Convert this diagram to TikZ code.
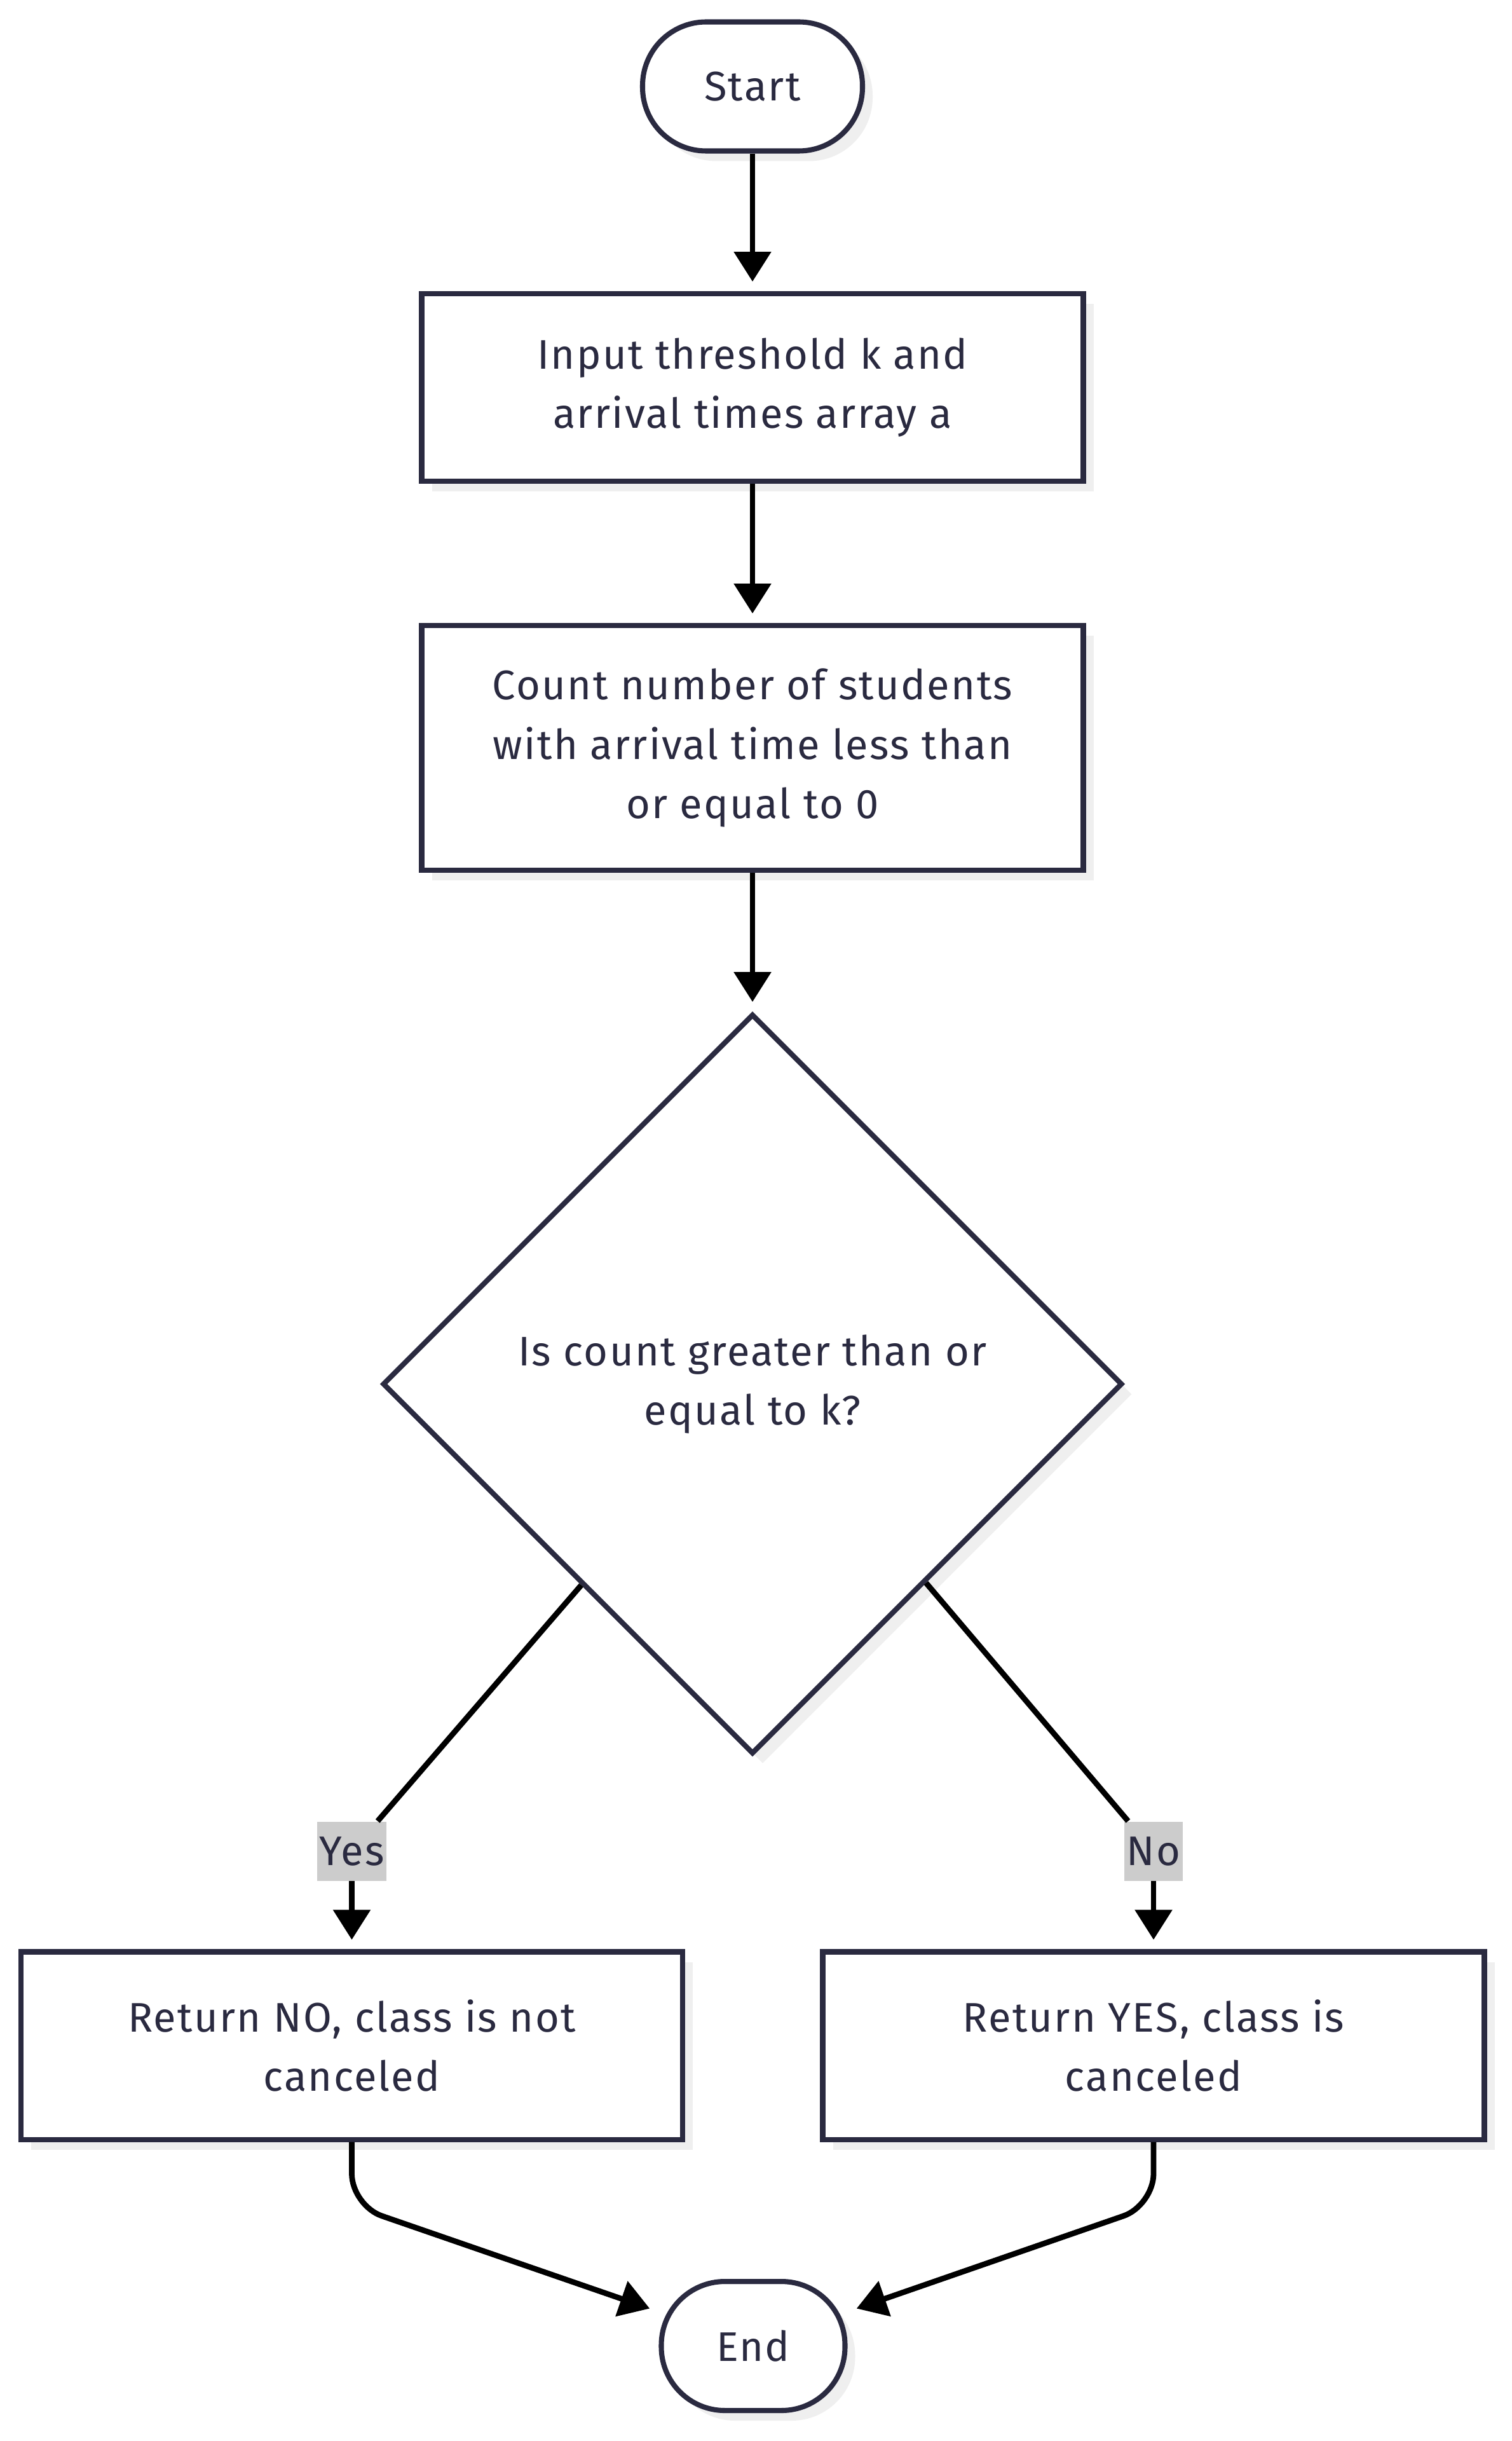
\documentclass[tikz,border=0pt]{standalone}
\usepackage{fontspec}
\setmainfont[LetterSpace=3.5]{Fira Sans}
\usepackage{xcolor}
\usepackage{tikz}
\usetikzlibrary{shapes.geometric, arrows.meta, positioning, calc, shadows}

\definecolor{ink}{HTML}{2A2A40}
\definecolor{shade}{HTML}{EFEFEF}
\definecolor{lblgray}{HTML}{CCCCCC}

\begin{document}
\begin{tikzpicture}[
   font=\fontsize{18.5}{26.5}\selectfont,
   text=ink,
   nodeshadow/.style = {drop shadow={shadow xshift=0.16cm, shadow yshift=-0.16cm, fill=shade, opacity=1}},
   terminal/.style = {draw=ink, fill=white, line width=2.3pt, rounded corners=1cm, minimum height=2.03cm, nodeshadow},
   process/.style = {draw=ink, fill=white, line width=2.3pt, rectangle, minimum width=10.41cm, minimum height=2.95cm, align=center, nodeshadow},
   decision/.style = {draw=ink, fill=white, line width=2.3pt, diamond, aspect=1, minimum width=11.64cm, minimum height=11.64cm, inner sep=0pt, align=center, nodeshadow},
   edgelabel/.style = {fill=lblgray, inner xsep=1pt, inner ysep=0pt, minimum height=0.93cm},
   line/.style = {draw=black, line width=2.5pt, -{Triangle[length=0.47cm, width=0.57cm]}, shorten >=0.15cm},
   plainline/.style = {draw=black, line width=2.5pt}
   ]
  \useasboundingbox (0,0) rectangle (23.78,-38.40);

  % Start node
  \node[terminal, minimum width=3.46cm] (start) at (11.84,-1.36) {Start};

  % Input box
  \node[process, below=2.165cm of start] (input)
   {Input threshold k and\\
   arrival times array a};

  % Counting box
  \node[process, minimum height=3.85cm, below=2.19cm of input] (count)
   {Count number of students\\
   with arrival time less than\\
   or equal to 0};

  % Decision
  \node[decision, below=2.18cm of count] (check)
   {Is count greater than or\\
   equal to k?};

  % Edge labels
  \node[edgelabel] (yeslbl) at (5.535,-29.12) {Yes};
  \node[edgelabel] (nolbl) at (18.15,-29.12) {No};

  % Result boxes
  \node[process] (retno) at (5.535,-32.18)
   {Return NO, class is not\\
   canceled};
  \node[process] (retyes) at (18.15,-32.18)
   {Return YES, class is\\
   canceled};

  % End node
  \node[terminal, minimum width=2.89cm] (finish) at (11.85,-36.905) {End};

  % Arrows
  \draw[line] (start) -- (input);
  \draw[line] (input) -- (count);
  \draw[line] (count) -- (check);
  \draw[plainline] ($(check.west)!0.54!(check.south)$) -- (yeslbl);
  \draw[line] (yeslbl) -- (retno);
  \draw[plainline] ($(check.east)!0.534!(check.south)$) -- (nolbl);
  \draw[line] (nolbl) -- (retyes);
  \draw[line, rounded corners=0.5cm] (retno.south) -- ++(0,-1.0) -- (finish.160);
  \draw[line, rounded corners=0.5cm] (retyes.south) -- ++(0,-1.0) -- (finish.20);
  \end{tikzpicture}
\end{document}
